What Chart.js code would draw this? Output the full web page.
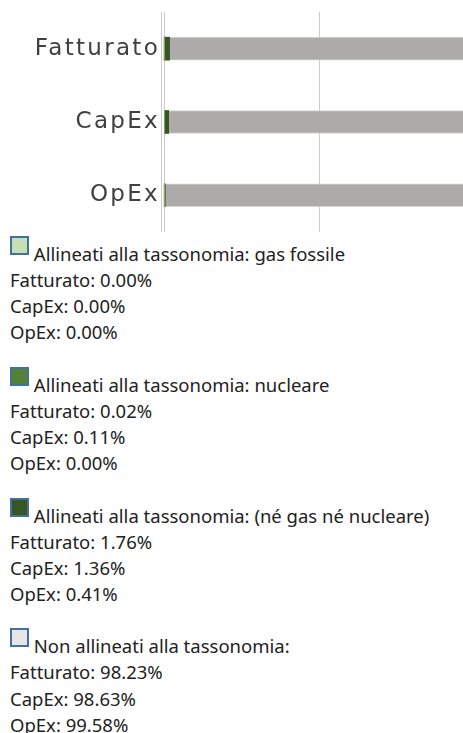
<!DOCTYPE html>
<html lang="it">
<head>
<meta charset="utf-8">
<script src="https://cdn.jsdelivr.net/npm/chart.js@4.4.1/dist/chart.umd.min.js"></script>
<style>
  html, body { margin: 0; padding: 0; overflow: hidden; background: #fff; }
  #clip { width: 463px; overflow: hidden; }
  #box { position: relative; width: 476px; height: 241px; }
  #legend { padding-left: 10px; font-family: "Noto Sans", "Open Sans", sans-serif; font-size: 18.5px; line-height: 26.15px; color: #222; }
  .grp { margin-bottom: 26.15px; }
  .sw { display: inline-block; width: 15px; height: 15px; border: 2px solid #41719c; vertical-align: baseline; position: relative; top: -6px; }
</style>
</head>
<body>
<div id="clip"><div id="box"><canvas id="c"></canvas></div></div>
<div id="legend"></div>
<script>
// ---- data ----
const categories = ['Fatturato', 'CapEx', 'OpEx'];
const seriesNames = [
  'Allineati alla tassonomia: gas fossile',
  'Allineati alla tassonomia: nucleare',
  'Allineati alla tassonomia: (né gas né nucleare)',
  'Non allineati alla tassonomia:'
];
const gasFossile = [0.00, 0.00, 0.00];
const nucleare = [0.02, 0.11, 0.00];
const neGasNeNucleare = [1.76, 1.36, 0.41];
const nonAllineati = [98.23, 98.63, 99.58];
const xTicks = [0, 50, 100];

// ---- styles ----
const barColors = ['#c6e0b4', '#548235', '#375623', '#aeaaaa'];
const legendColors = ['#c6e0b4', '#548235', '#375623', '#e7e6e6'];
const seriesValues = [gasFossile, nucleare, neGasNeNucleare, nonAllineati];

const spacing = {
  id: 'spacing',
  beforeUpdate(c) { c.ctx.letterSpacing = '2.3px'; },
  beforeDraw(c) { c.ctx.letterSpacing = '2.3px'; }
};

new Chart(document.getElementById('c'), {
  type: 'bar',
  data: {
    labels: categories,
    datasets: seriesValues.map((vals, i) => ({
      label: seriesNames[i],
      data: vals,
      backgroundColor: barColors[i],
      borderColor: '#d6d4d4',
      borderWidth: i === 3 ? { top: 1, bottom: 1, left: 0, right: 0 } : 0,
      borderSkipped: false,
      barThickness: 23
    }))
  },
  options: {
    indexAxis: 'y',
    responsive: true,
    maintainAspectRatio: false,
    animation: false,
    layout: { padding: { top: 12, bottom: 9, left: 0, right: 2 } },
    plugins: { legend: { display: false }, tooltip: { enabled: false } },
    scales: {
      x: {
        stacked: true,
        min: -1,
        max: 100,
        afterBuildTicks(s) { s.ticks = xTicks.map(v => ({ value: v })); },
        afterFit(s) { s.height = 0; },
        ticks: { display: false },
        grid: { color: '#cccccc', lineWidth: 1, drawTicks: false },
        border: { display: false }
      },
      y: {
        stacked: true,
        afterFit(s) { s.width = 161; },
        ticks: { color: '#404040', padding: 1, font: { family: 'DejaVu Sans', size: 23, lineHeight: 0.7 } },
        grid: { display: false, drawTicks: false },
        border: { display: true, color: '#cccccc', width: 1 }
      }
    }
  },
  plugins: [spacing]
});

// ---- legend (HTML) ----
const lg = document.getElementById('legend');
seriesNames.forEach((name, i) => {
  const g = document.createElement('div');
  g.className = 'grp';
  const sw = document.createElement('span');
  sw.className = 'sw';
  sw.style.background = legendColors[i];
  g.appendChild(sw);
  g.appendChild(document.createTextNode(' ' + name));
  categories.forEach((cat, j) => {
    g.appendChild(document.createElement('br'));
    g.appendChild(document.createTextNode(cat + ': ' + seriesValues[i][j].toFixed(2) + '%'));
  });
  lg.appendChild(g);
});
</script>
</body>
</html>
